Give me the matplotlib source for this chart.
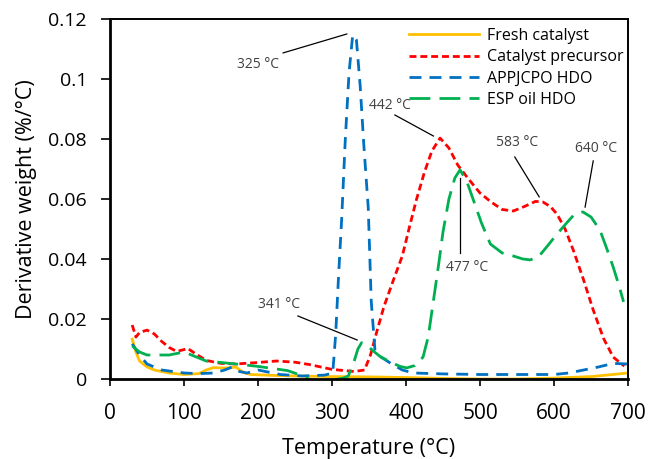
import matplotlib
matplotlib.use("Agg")
import matplotlib.pyplot as plt

plt.rcParams['font.family'] = ['Open Sans', 'DejaVu Sans']

# Fresh catalyst
fresh_T = [30, 35, 40, 50, 60, 80, 100, 120, 130, 140, 150, 160, 170, 180, 190, 220, 250, 300, 350, 400, 450, 500, 550, 600, 650, 700]
fresh_y = [0.0133, 0.009, 0.006, 0.004, 0.003, 0.002, 0.0015, 0.0018, 0.003, 0.0038, 0.0037, 0.0037, 0.004, 0.0022, 0.0015, 0.0012, 0.001, 0.0008, 0.0007, 0.0005, 0.0002, 0.0, 0.0, 0.0003, 0.0008, 0.002]

# Catalyst precursor
prec_T = [30, 35, 40, 50, 60, 70, 80, 90, 100, 105, 115, 130, 150, 170, 200, 225, 250, 270, 300, 330, 344, 352, 360, 370, 383, 395, 405, 414, 425, 435, 446, 458, 470, 485, 500, 515, 530, 545, 560, 575, 585, 595, 604, 615, 626, 640, 653, 667, 680, 695]
prec_y = [0.018, 0.014, 0.0155, 0.0163, 0.015, 0.0125, 0.0105, 0.0092, 0.0098, 0.0102, 0.0085, 0.0062, 0.0052, 0.005, 0.0055, 0.006, 0.0056, 0.0048, 0.0032, 0.0025, 0.003, 0.008, 0.0153, 0.024, 0.033, 0.041, 0.051, 0.0597, 0.069, 0.076, 0.0803, 0.077, 0.0713, 0.0665, 0.062, 0.059, 0.0565, 0.056, 0.0575, 0.0592, 0.059, 0.0575, 0.055, 0.050, 0.043, 0.033, 0.023, 0.0135, 0.0073, 0.0043]

# APPJCPO HDO
appj_T = [30, 40, 50, 70, 100, 120, 140, 155, 165, 175, 185, 200, 230, 260, 290, 301, 305, 309, 313, 318, 323, 328, 333, 338, 343, 349, 353, 358, 365, 379, 395, 410, 450, 500, 550, 600, 620, 640, 660, 680, 700]
appj_y = [0.0117, 0.008, 0.005, 0.003, 0.002, 0.0018, 0.002, 0.003, 0.004, 0.0025, 0.002, 0.003, 0.0015, 0.001, 0.0013, 0.002, 0.015, 0.035, 0.053, 0.08, 0.102, 0.1147, 0.113, 0.098, 0.078, 0.057, 0.026, 0.0097, 0.0075, 0.0053, 0.003, 0.002, 0.0017, 0.0015, 0.0015, 0.0015, 0.002, 0.003, 0.004, 0.0052, 0.005]

# ESP oil HDO
esp_T = [30, 40, 50, 65, 80, 90, 100, 110, 130, 150, 170, 200, 220, 240, 255, 265, 275, 290, 305, 315, 322, 330, 335, 340, 346, 355, 365, 380, 392, 401, 412, 423, 430, 437, 444, 450, 458, 466, 473, 482, 491, 502, 514, 530, 545, 558, 568, 580, 590, 603, 617, 628, 639, 650, 662, 672, 680, 688, 694]
esp_y = [0.011, 0.009, 0.008, 0.008, 0.008, 0.0085, 0.009, 0.008, 0.006, 0.0055, 0.005, 0.0042, 0.0035, 0.0028, 0.0015, 0.0003, -0.0005, -0.0005, -0.0002, 0.0003, 0.001, 0.006, 0.01, 0.0121, 0.0115, 0.0095, 0.0075, 0.0055, 0.0042, 0.0037, 0.0045, 0.0073, 0.014, 0.026, 0.038, 0.049, 0.06, 0.067, 0.0697, 0.066, 0.0597, 0.052, 0.045, 0.042, 0.041, 0.040, 0.0397, 0.041, 0.044, 0.048, 0.052, 0.055, 0.0557, 0.054, 0.0497, 0.043, 0.0373, 0.031, 0.0257]

series_labels = ["Fresh catalyst", "Catalyst precursor", "APPJCPO HDO", "ESP oil HDO"]

x_ticks = [0, 100, 200, 300, 400, 500, 600, 700]
y_ticks = [0, 0.02, 0.04, 0.06, 0.08, 0.1, 0.12]
y_tick_labels = ["0", "0.02", "0.04", "0.06", "0.08", "0.1", "0.12"]

# annotations: (label, text_x, text_y, line_start, line_end)
annots = [
    ("325 °C", 200, 0.1050, (234, 0.1087), (320, 0.115)),
    ("442 °C", 378, 0.0913, (385, 0.088), (437, 0.081)),
    ("583 °C", 550, 0.0787, (547, 0.074), (580, 0.0607)),
    ("640 °C", 657, 0.0770, (653, 0.0727), (642, 0.0573)),
    ("477 °C", 482, 0.0373, (473, 0.042), (473, 0.067)),
    ("341 °C", 228, 0.0250, (254, 0.021), (334, 0.013)),
]

fig = plt.figure(figsize=(6.48, 4.59), dpi=100)
ax = fig.add_axes([110/648, 1-379/459, 518/648, 360/459])

ax.plot(fresh_T, fresh_y, color="#FFC000", lw=2.0, label=series_labels[0])
ax.plot(prec_T, prec_y, color="#FF0000", lw=2.0, dashes=(2.5, 1.4), label=series_labels[1])
ax.plot(appj_T, appj_y, color="#0070C0", lw=2.0, dashes=(4.3, 2.9), label=series_labels[2])
ax.plot(esp_T, esp_y, color="#00B050", lw=2.0, dashes=(7.5, 3.3), label=series_labels[3])

for lab, tx, ty, p0, p1 in annots:
    ax.text(tx, ty, lab, ha="center", va="center", fontsize=10, color="#404040")
    ax.plot([p0[0], p1[0]], [p0[1], p1[1]], color="black", lw=0.9)

ax.set_xlim(0, 700)
ax.set_ylim(0, 0.12)
ax.set_xticks(x_ticks)
ax.set_xticklabels([str(t) for t in x_ticks])
ax.set_yticks(y_ticks)
ax.set_yticklabels(y_tick_labels)
ax.tick_params(axis="both", direction="out", width=1.2, colors="black")
ax.tick_params(axis="x", length=5, pad=12.5, labelsize=15)
ax.tick_params(axis="y", length=6.5, pad=10, labelsize=14)
for s in ax.spines.values():
    s.set_linewidth(1.4)
ax.spines["left"].set_linewidth(2.0)
ax.spines["bottom"].set_linewidth(2.0)

ax.set_xlabel("Temperature (°C)", fontsize=15.5, labelpad=10)
ax.set_ylabel("Derivative weight (%/°C)", fontsize=15.5, labelpad=8)

leg = ax.legend(loc="upper right", bbox_to_anchor=(1.01, 1.002), frameon=False, fontsize=11.5,
                handlelength=4.4, handletextpad=0.5, labelspacing=0.33, borderaxespad=0.2)

fig.savefig("out.png", dpi=100)
